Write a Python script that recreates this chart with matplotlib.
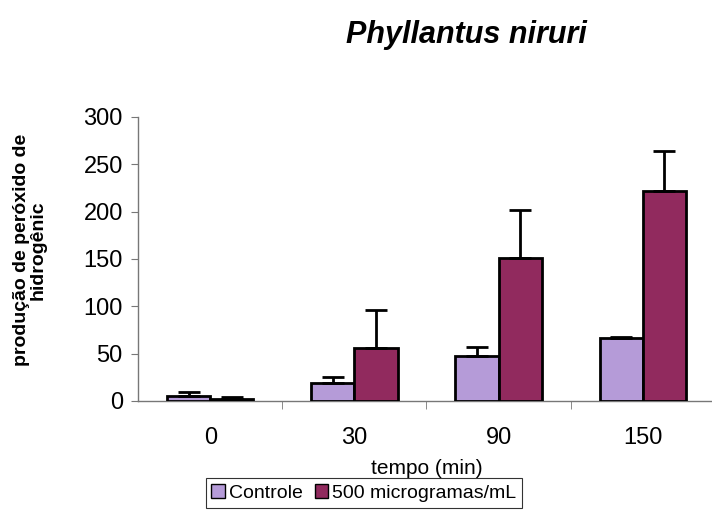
import matplotlib
matplotlib.use("Agg")
import matplotlib.pyplot as plt
import numpy as np

plt.rcParams["font.family"] = ["Liberation Sans", "DejaVu Sans"]

categories = ["0", "30", "90", "150"]
controle = [5, 19, 48, 66]
controle_err = [5, 6, 9, 2]
dose_500 = [2, 56, 151, 222]
dose_500_err = [2, 40, 51, 42]

fig = plt.figure(figsize=(7.12, 5.29), dpi=100, facecolor="white")
ax = fig.add_axes([0.194, 0.242, 0.81, 0.537])

x = np.arange(len(categories))
width = 0.3
ax.bar(x - width / 2, controle, width, color="#b59bd8", edgecolor="black", linewidth=2,
       yerr=[np.zeros(4), controle_err], error_kw=dict(ecolor="black", elinewidth=2, capsize=8, capthick=2),
       label="Controle", zorder=3)
ax.bar(x + width / 2, dose_500, width, color="#912a5e", edgecolor="black", linewidth=2,
       yerr=[np.zeros(4), dose_500_err], error_kw=dict(ecolor="black", elinewidth=2, capsize=8, capthick=2),
       label="500 microgramas/mL", zorder=3)

ax.set_xlim(-0.5, 3.5)
ax.set_ylim(0, 300)
ax.set_yticks(range(0, 301, 50))
ax.set_xticks(x)
ax.set_xticklabels(categories)
ax.set_xticks([0.5, 1.5, 2.5], minor=True)
ax.tick_params(axis="x", which="major", length=0, labelsize=17, pad=19)
ax.tick_params(axis="x", which="minor", length=6, color="#777777", direction="out")
ax.tick_params(axis="y", labelsize=17, length=5, color="#777777", pad=6)
for side in ["top", "right"]:
    ax.spines[side].set_visible(False)
for side in ["left", "bottom"]:
    ax.spines[side].set_color("#777777")
    ax.spines[side].set_linewidth(1)

fig.text(0.599, 1 - 468 / 529, "tempo (min)", fontsize=15, ha="center", va="center")
fig.text(0.042, 0.527, "produção de peróxido de\nhidrogênic", fontsize=14, fontweight="bold",
         rotation=90, ha="center", va="center", multialignment="center", linespacing=1.0)
fig.text(0.655, 0.934, "Phyllantus niruri", fontsize=22, fontweight="bold", fontstyle="italic",
         ha="center", va="center")

leg = fig.legend(loc="center", bbox_to_anchor=(0.511, 0.068), ncol=2, frameon=True, fancybox=False,
                 fontsize=14, handlelength=0.7, handleheight=0.7, handletextpad=0.2, columnspacing=0.6,
                 borderpad=0.3, edgecolor="black")
leg.get_frame().set_linewidth(0.8)
for h in leg.legend_handles:
    h.set_linewidth(1)

fig.savefig("out.png", dpi=100)
